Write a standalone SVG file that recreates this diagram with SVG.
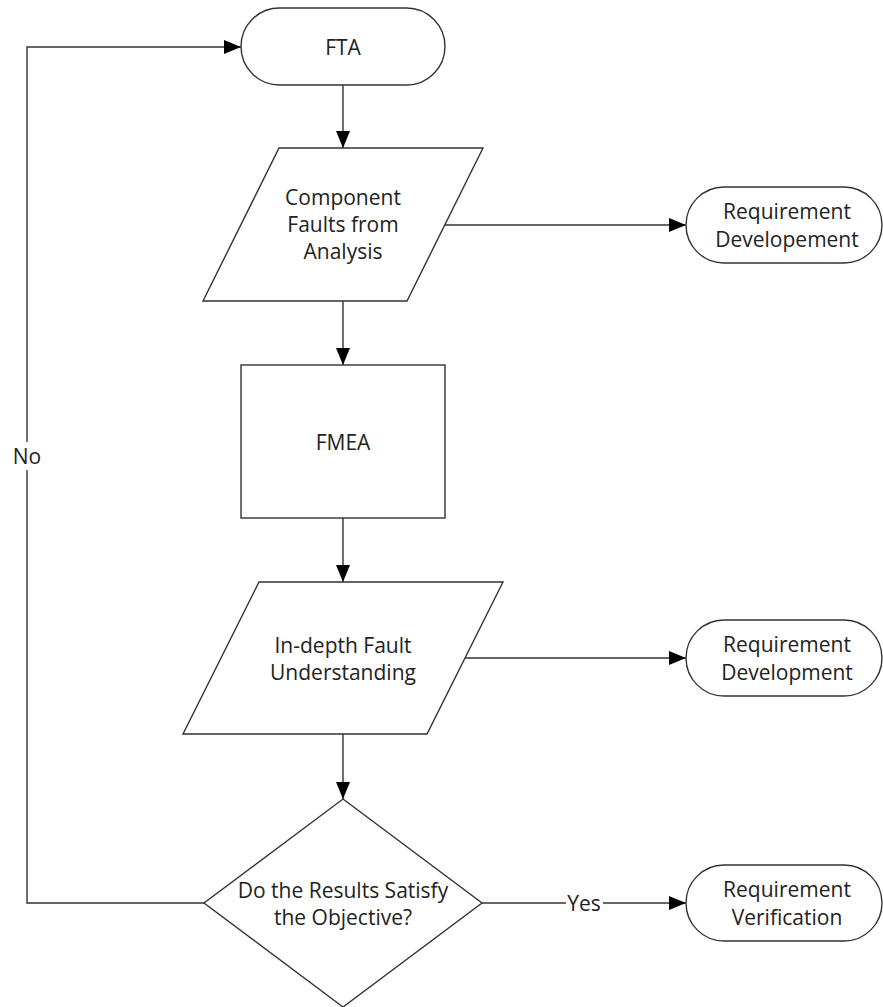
<svg xmlns="http://www.w3.org/2000/svg" width="883" height="1007" viewBox="0 0 883 1007">
<style>
.shape{fill:#ffffff;stroke:#333333;stroke-width:1.4}
.edge{fill:none;stroke:#333333;stroke-width:1.4}
text{font-family:"Open Sans","Noto Sans","Liberation Sans",sans-serif;font-size:21px;fill:#222222;text-anchor:middle}
.bg{fill:#ffffff;stroke:none}
</style>
<defs>
<marker id="arrow" markerWidth="17" markerHeight="14" refX="17" refY="7" orient="auto" markerUnits="userSpaceOnUse">
<path d="M0,0 L17,7 L0,14 Z" fill="#000000"/>
</marker>
</defs>
<rect width="883" height="1007" fill="#ffffff"/>
<g id="connectors">
<path class="edge" d="M343,85 L343,148" marker-end="url(#arrow)"/>
<path class="edge" d="M445,225 L686,225" marker-end="url(#arrow)"/>
<path class="edge" d="M343,301 L343,365" marker-end="url(#arrow)"/>
<path class="edge" d="M343,518 L343,582" marker-end="url(#arrow)"/>
<path class="edge" d="M465,658 L686,658" marker-end="url(#arrow)"/>
<path class="edge" d="M343,734 L343,799" marker-end="url(#arrow)"/>
<path class="edge" d="M482,903 L686,903" marker-end="url(#arrow)"/>
<path class="edge" d="M204,903 L27,903 L27,47 L241,47" marker-end="url(#arrow)"/>
<rect class="bg" x="11" y="442" width="33" height="28"/>
<text x="27" y="464">No</text>
<rect class="bg" x="566" y="890" width="37" height="26"/>
<text x="584" y="911">Yes</text>
</g>
<g id="fta">
<rect class="shape" x="241" y="8" width="204" height="77" rx="38.5" ry="38.5"/>
<text x="343" y="55">FTA</text>
</g>
<g id="component-faults">
<polygon class="shape" points="279,148 483,148 407,301 203,301"/>
<text x="343" y="205">Component</text>
<text x="343" y="232">Faults from</text>
<text x="343" y="259">Analysis</text>
</g>
<g id="req-developement">
<rect class="shape" x="686" y="187" width="196" height="76" rx="38" ry="38"/>
<text x="787" y="219">Requirement</text>
<text x="787" y="247">Developement</text>
</g>
<g id="fmea">
<rect class="shape" x="241" y="365" width="204" height="153"/>
<text x="343" y="450">FMEA</text>
</g>
<g id="in-depth">
<polygon class="shape" points="259,582 503,582 427,734 183,734"/>
<text x="343" y="653">In-depth Fault</text>
<text x="343" y="680">Understanding</text>
</g>
<g id="req-development">
<rect class="shape" x="686" y="620" width="196" height="76" rx="38" ry="38"/>
<text x="787" y="652">Requirement</text>
<text x="787" y="680">Development</text>
</g>
<g id="decision">
<polygon class="shape" points="343,799 482,903 343,1007 204,903"/>
<text x="343" y="898">Do the Results Satisfy</text>
<text x="343" y="925">the Objective?</text>
</g>
<g id="req-verification">
<rect class="shape" x="686" y="865" width="196" height="76" rx="38" ry="38"/>
<text x="787" y="897">Requirement</text>
<text x="787" y="925">Verification</text>
</g>
</svg>
